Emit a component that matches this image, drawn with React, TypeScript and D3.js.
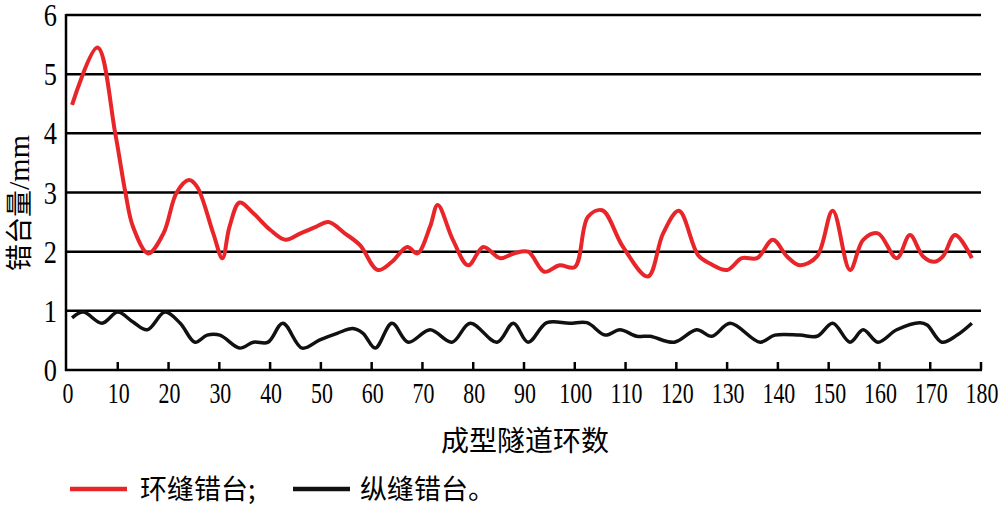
import * as d3 from "d3";

// ring numbers / values
const ringRing = [1, 6, 9.5, 11.5, 13, 16, 19, 21.6, 24, 25.6, 28.8, 30.6, 32, 34, 36.7, 40, 43, 46, 49, 51.5, 54.7, 57.7, 61.2, 64, 67, 69, 71.5, 73, 76, 79, 82, 85.3, 88, 90.8, 94, 97, 100, 102.6, 105.4, 109.5, 114.4, 117.4, 120.5, 124.3, 126.6, 130, 132.9, 135.9, 139, 141.8, 144.3, 147.7, 150.8, 154.2, 156.8, 159.7, 163.4, 166, 168.6, 170.9, 172.5, 174.9, 178.2];
const ringVals = [4.48, 5.45, 4.0, 3.0, 2.42, 1.97, 2.31, 3.0, 3.21, 3.1, 2.31, 1.89, 2.42, 2.83, 2.65, 2.37, 2.2, 2.31, 2.42, 2.5, 2.31, 2.11, 1.69, 1.83, 2.08, 1.97, 2.42, 2.79, 2.2, 1.77, 2.08, 1.89, 1.97, 2.0, 1.66, 1.77, 1.74, 2.59, 2.7, 2.08, 1.58, 2.31, 2.69, 1.94, 1.8, 1.69, 1.89, 1.89, 2.2, 1.92, 1.77, 1.92, 2.69, 1.69, 2.2, 2.31, 1.89, 2.28, 1.92, 1.83, 1.92, 2.28, 1.89];

const longRing = [1, 3.2, 6.9, 10, 13, 15.8, 19.3, 22.3, 25.2, 27.6, 30.1, 34, 36.7, 39.6, 42.5, 46.3, 49.8, 53.2, 56.3, 58.3, 60.7, 64, 67.2, 71.5, 75.8, 79.4, 84.7, 87.9, 90.8, 94.5, 99, 102.4, 106, 108.9, 112.2, 114.8, 119.6, 124, 127, 130.6, 136.5, 139.4, 144.3, 147.7, 150.8, 154.2, 156.8, 159.7, 163.4, 168, 169.4, 172.3, 175.3, 178.2];
const longVals = [0.88, 0.98, 0.79, 0.98, 0.81, 0.68, 0.98, 0.79, 0.47, 0.59, 0.59, 0.37, 0.47, 0.47, 0.79, 0.37, 0.51, 0.62, 0.7, 0.62, 0.37, 0.79, 0.47, 0.68, 0.47, 0.79, 0.47, 0.79, 0.47, 0.8, 0.79, 0.8, 0.59, 0.68, 0.57, 0.57, 0.47, 0.68, 0.57, 0.79, 0.47, 0.59, 0.59, 0.57, 0.79, 0.47, 0.68, 0.47, 0.68, 0.8, 0.76, 0.47, 0.59, 0.79];

const xTicks = d3.range(0, 181, 10);
const yTicks = [0, 1, 2, 3, 4, 5, 6];
const seriesNames = ["环缝错台;", "纵缝错台。"];
const xTitle = "成型隧道环数";
const yTitle = "错台量";
const yUnit = "/mm";

const W = 1004, H = 506;
const x = d3.scaleLinear().domain([0, 180]).range([67, 981]);
const y = d3.scaleLinear().domain([0, 6]).range([370, 15]);

const line = d3.line<[number, number]>()
  .x(d => x(d[0]))
  .y(d => y(d[1]))
  .curve(d3.curveCatmullRom.alpha(0.5));

const serif = "'Liberation Serif', 'DejaVu Serif', serif";
const cjk = "'Noto Sans CJK SC', sans-serif";

export default function App() {
  const red = line(ringRing.map((r, i) => [r, ringVals[i]] as [number, number])) || "";
  const black = line(longRing.map((r, i) => [r, longVals[i]] as [number, number])) || "";
  return (
    <svg width={W} height={H} style={{ position: "absolute", left: 0, top: 0, background: "#fff" }}>
      {/* gridlines */}
      {yTicks.filter(t => t > 0).map(t => (
        <line key={t} x1={x(0) - 1} x2={x(180)} y1={y(t)} y2={y(t)} stroke="#000" strokeWidth={2.5} />
      ))}
      {/* axes */}
      <line x1={x(0) - 1} x2={x(0) - 1} y1={y(6) - 1} y2={y(0) + 1} stroke="#000" strokeWidth={2.5} />
      <line x1={x(0) - 2} x2={x(180) + 1} y1={y(0)} y2={y(0)} stroke="#000" strokeWidth={2.5} />
      {xTicks.filter(t => t > 0).map(t => (
        <line key={t} x1={x(t)} x2={x(t)} y1={y(0)} y2={y(0) - 8} stroke="#000" strokeWidth={2.5} />
      ))}
      {/* y labels */}
      {yTicks.map(t => (
        <text key={t} transform={`translate(57,${y(t) + 11}) scale(0.85,1)`} textAnchor="end"
          fontFamily={serif} fontSize={31} fill="#000">{t}</text>
      ))}
      {/* x labels */}
      {xTicks.map(t => (
        <text key={t} transform={`translate(${x(t) + 1},${403}) scale(0.73,1)`} textAnchor="middle"
          fontFamily={serif} fontSize={30} fill="#000">{t}</text>
      ))}
      {/* series */}
      <path d={black} fill="none" stroke="#111" strokeWidth={3.5} strokeLinejoin="round" />
      <path d={red} fill="none" stroke="#e8262a" strokeWidth={4} strokeLinejoin="round" />
      {/* titles */}
      <text x={525} y={451} textAnchor="middle" fontFamily={cjk} fontSize={28} fill="#000">{xTitle}</text>
      <text transform={`translate(29,203) rotate(-90)`} textAnchor="middle" fontFamily={cjk} fontSize={27} fill="#000">
        {yTitle}<tspan fontFamily={serif} fontSize={30}>{yUnit}</tspan>
      </text>
      {/* legend */}
      <line x1={70} x2={127} y1={489} y2={489} stroke="#e8262a" strokeWidth={4.5} />
      <text x={140} y={499} fontFamily={cjk} fontSize={27} fill="#000">{seriesNames[0]}</text>
      <line x1={293} x2={350} y1={489} y2={489} stroke="#111" strokeWidth={4.5} />
      <text x={360} y={499} fontFamily={cjk} fontSize={27} fill="#000">{seriesNames[1]}</text>
    </svg>
  );
}
